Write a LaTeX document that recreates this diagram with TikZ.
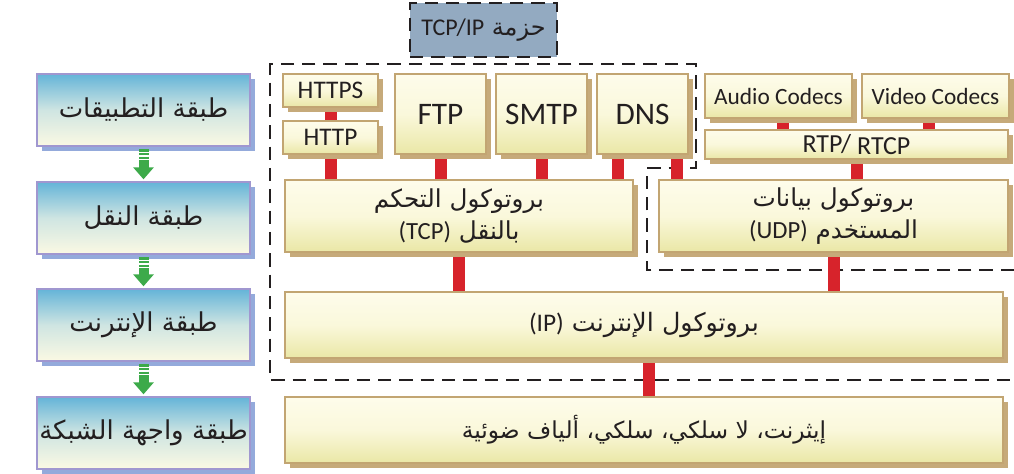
\documentclass[tikz,border=0pt]{standalone}
\usepackage{fontspec}
\setmainfont{Carlito}
\newfontfamily\arabicfont[Script=Arabic]{DejaVu Sans}
\TeXXeTstate=1
\usetikzlibrary{positioning, arrows.meta, shadows, backgrounds}

\definecolor{layertop}{HTML}{64B4D8}
\definecolor{layermid}{HTML}{CFE5E2}
\definecolor{layerbot}{HTML}{FBF9E3}
\definecolor{layeredge}{HTML}{A097D0}
\definecolor{layershadow}{HTML}{94AADB}
\definecolor{prototop}{HTML}{FEFCEB}
\definecolor{protomid}{HTML}{FAF8DB}
\definecolor{protobot}{HTML}{EAE7A6}
\definecolor{protoedge}{HTML}{C2A572}
\definecolor{protoshadow}{HTML}{C6AA7A}
\definecolor{linkred}{HTML}{D7232B}
\definecolor{flowgreen}{HTML}{3DAA4A}
\definecolor{stackblue}{HTML}{93AAC1}
\definecolor{inkdark}{HTML}{231F20}

\newcommand{\artext}[1]{{\arabicfont\beginR #1\endR}}
\newcommand{\ltr}[1]{{\normalfont\beginL #1\endL}}

\begin{document}
\begin{tikzpicture}[
    x=0.75pt, y=-0.75pt,
    layerbox/.style={draw=layeredge, line width=1.5pt, top color=layertop, bottom color=layerbot, middle color=layermid, drop shadow={shadow xshift=4pt, shadow yshift=-4pt, fill=layershadow, opacity=1}, minimum width=159.75pt, minimum height=54pt, inner sep=0pt, outer sep=0pt, text=inkdark, font=\fontsize{19.5}{22}\selectfont},
    protobox/.style={draw=protoedge, line width=1.5pt, top color=prototop, bottom color=protobot, middle color=protomid, drop shadow={shadow xshift=3.5pt, shadow yshift=-3.5pt, fill=protoshadow, opacity=1}, inner sep=0pt, outer sep=0pt, align=center, text=inkdark, font=\fontsize{18.5}{24}\selectfont},
    bigproto/.style={minimum width=68.25pt, minimum height=60pt, font=\fontsize{23.5}{26}\selectfont},
    webproto/.style={minimum width=71.25pt, minimum height=24.75pt, font=\fontsize{19}{22}\selectfont},
    codec/.style={minimum width=110.25pt, minimum height=33pt, font=\fontsize{17.5}{20}\selectfont},
    stackzone/.style={draw=inkdark, line width=2.2pt, dash pattern=on 10pt off 6pt},
    redlink/.style={draw=linkred, line width=9pt},
    downflow/.style={draw=flowgreen, line width=7.5pt, -{Triangle[width=15pt, length=9pt]}, dash pattern=on 1.9pt off 0.8pt on 1.9pt off 0.8pt on 1.9pt off 0.8pt on 40pt off 1pt, shorten <=2.5pt, shorten >=2pt}
]
\useasboundingbox (0,0) rectangle (1014,474);

% Layers
\node[layerbox] (app) at (143.5,110) {\artext{طبقة التطبيقات}};
\node[layerbox, below=27pt of app] (transport) {\artext{طبقة النقل}};
\node[layerbox, below=26.25pt of transport] (internet) {\artext{طبقة الإنترنت}};
\node[layerbox, below=27pt of internet] (netif) {\artext{طبقة واجهة الشبكة}};

% Stack title
\node[stackzone, fill=stackblue, minimum width=110.25pt, minimum height=40.5pt, text=inkdark, font=\fontsize{18}{20}\selectfont] (stack) at (483.5,30) {\artext{حزمة \ltr{TCP/IP}}};

% Application protocols
\node[protobox, webproto, anchor=north west] (https) at (283,74) {HTTPS};
\node[protobox, webproto, below=10.5pt of https] (http) {HTTP};
\node[protobox, bigproto, right=12.75pt of https.north east, anchor=north west] (ftp) {FTP};
\node[protobox, bigproto, right=7.5pt of ftp] (smtp) {SMTP};
\node[protobox, bigproto, right=7.5pt of smtp] (dns) {DNS};

% Media protocols
\node[protobox, codec, right=12.75pt of dns.north east, anchor=north west] (audio) {Audio Codecs};
\node[protobox, codec, right=7.5pt of audio] (video) {Video Codecs};
\node[protobox, minimum width=227.25pt, minimum height=21.75pt, font=\fontsize{19.5}{20}\selectfont, below=9pt of audio.south west, anchor=north west] (rtp) {\raisebox{2pt}{RTP/} RTCP};

% Transport protocols
\node[protobox, minimum width=261pt, minimum height=54pt, anchor=north west] (tcp) at (285,180) {\artext{بروتوكول التحكم}\\\artext{بالنقل \ltr{(TCP)}}};
\node[protobox, minimum width=261.75pt, minimum height=54pt, right=19.5pt of tcp] (udp) {\artext{بروتوكول بيانات}\\\artext{المستخدم \ltr{(UDP)}}};

% Internet and link
\node[protobox, minimum width=538.5pt, minimum height=49.5pt, font=\fontsize{19}{22}\selectfont, below=30pt of tcp.south west, anchor=north west] (ip) {\artext{بروتوكول الإنترنت \ltr{(IP)}}};
\node[protobox, minimum width=538.5pt, minimum height=49.5pt, font=\fontsize{17.5}{22}\selectfont, below=29.25pt of ip] (eth) {\artext{إيثرنت، لا سلكي، سلكي، ألياف ضوئية}};

\begin{scope}[on background layer]
% Stack outline
\draw[stackzone] (1014,270) -- (647,270) -- (647,168) -- (696,168) -- (696,64) -- (270,64) -- (270,380) -- (1014,380);

% Links
\draw[redlink] (https) -- (http);
\draw[redlink] (http) -- (http |- tcp.north);
\draw[redlink] (ftp) -- (ftp |- tcp.north);
\draw[redlink] (smtp) -- (smtp |- tcp.north);
\draw[redlink] ([xshift=-18.4pt]dns.south) -- ([xshift=-18.4pt]dns.south |- tcp.north);
\draw[redlink] ([xshift=25.5pt]dns.south) -- ([xshift=25.5pt]dns.south |- udp.north);
\draw[redlink] ([xshift=3.4pt]audio.south) -- ([xshift=3.4pt]audio.south |- rtp.north);
\draw[redlink] ([xshift=-4.9pt]video.south) -- ([xshift=-4.9pt]video.south |- rtp.north);
\draw[redlink] (rtp) -- (rtp |- udp.north);
\draw[redlink] (tcp) -- (tcp |- ip.north);
\draw[redlink] (udp) -- (udp |- ip.north);
\draw[redlink] ([xshift=3.4pt]ip.south) -- ([xshift=3.4pt]ip.south |- eth.north);
\end{scope}

% Flow between layers
\draw[downflow] (app) -- (transport);
\draw[downflow] (transport) -- (internet);
\draw[downflow] (internet) -- (netif);

\end{tikzpicture}
\end{document}
